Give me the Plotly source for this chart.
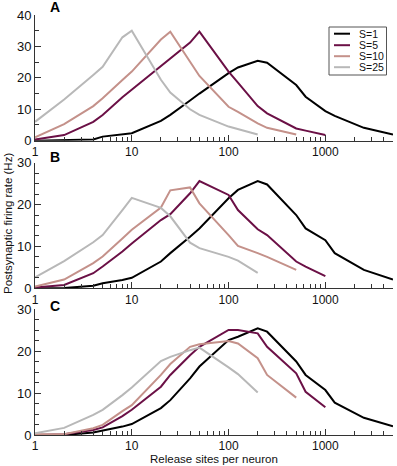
import plotly.graph_objects as go

# ---------------- data ----------------
release_sites = [1, 2, 4, 5, 8, 10, 20, 25, 40, 50, 100, 125, 200, 250, 500, 625, 1000, 1250, 2500, 5000]
series_names = ["S=1", "S=5", "S=10", "S=25"]
series_colors = ["#000000", "#6b1046", "#c4918a", "#b8b8b8"]

panel_a_s1 = [0, 0.1, 0.4, 1.3, 2.0, 2.4, 6.3, 8.2, 12.8, 15.0, 21.5, 23.3, 25.4, 24.8, 17.7, 14.0, 9.4, 7.9, 4.1, 2.0]
panel_a_s5 = [0.4, 1.8, 6.0, 8.2, 13.8, 16.2, 23.8, 25.9, 31.2, 34.7, 22.0, 18.5, 11.0, 8.7, 3.9, 3.2, 1.8]
panel_a_s10 = [1.1, 5.3, 11.0, 13.5, 19.3, 22.0, 32.2, 34.7, 25.1, 20.6, 10.8, 9.2, 5.5, 4.1, 2.0]
panel_a_s25 = [6.0, 13.1, 20.9, 23.5, 32.9, 35.0, 19.4, 15.3, 10.0, 8.2, 4.5, 3.7, 2.0]

panel_b_s1 = [0, 0.1, 0.6, 1.2, 2.0, 2.5, 6.4, 8.4, 12.3, 14.3, 21.5, 23.5, 25.6, 24.8, 17.5, 14.3, 11.5, 8.4, 4.4, 2.1]
panel_b_s5 = [0.2, 0.8, 3.6, 5.2, 8.8, 10.7, 16.3, 17.7, 22.7, 25.6, 22.3, 18.7, 14.1, 12.7, 6.4, 5.2, 2.9]
panel_b_s10 = [0.4, 2.1, 6.0, 7.6, 11.9, 14.0, 19.3, 23.4, 24.1, 20.3, 12.7, 10.1, 8.4, 7.5, 4.4]
panel_b_s25 = [2.6, 6.5, 11.0, 12.7, 18.7, 21.6, 19.2, 17.2, 10.9, 9.6, 7.5, 6.6, 3.7]

panel_c_s1 = [0, 0, 0.6, 1.0, 2.0, 2.6, 6.4, 8.3, 13.5, 16.3, 22.6, 23.4, 25.4, 24.6, 17.5, 14.3, 10.7, 7.7, 4.1, 2.1]
panel_c_s5 = [0, 0.2, 1.2, 1.8, 4.5, 6.0, 11.5, 14.3, 19.0, 21.0, 25.0, 25.0, 24.2, 21.0, 14.7, 10.3, 6.6]
panel_c_s10 = [0.2, 0.2, 1.6, 2.4, 5.7, 7.1, 14.3, 16.9, 21.0, 21.6, 22.4, 21.8, 18.3, 14.3, 8.9]
panel_c_s25 = [0.4, 1.7, 4.8, 6.0, 9.5, 11.3, 17.6, 18.6, 20.2, 20.8, 16.1, 14.5, 10.1]

panels = [
    ("A", [panel_a_s1, panel_a_s5, panel_a_s10, panel_a_s25], 40, 5),
    ("B", [panel_b_s1, panel_b_s5, panel_b_s10, panel_b_s25], 30, 2.5),
    ("C", [panel_c_s1, panel_c_s5, panel_c_s10, panel_c_s25], 30, 2.5),
]
x_ticks = [1, 10, 100, 1000]
x_tick_text = ["1", "10", "100", "1000"]

# ---------------- layout geometry ----------------
W, H = 397, 466
ML, MR, MT, MB = 35, 4, 15, 31
PW, PH = W - ML - MR, H - MT - MB


def px_x(px):
    return (px - ML) / PW


def px_y(py):
    return (H - MB - py) / PH


# panel pixel bounds (top, bottom)
panel_px = [(15, 140.7), (162.7, 288.3), (309, 435)]
letter_px_y = [7, 157, 306]

FONT = "Liberation Sans, Arial, Helvetica, sans-serif"
AX_COLOR = "#333333"

fig = go.Figure()
layout = dict(
    width=W, height=H, autosize=False,
    margin=dict(l=ML, r=MR, t=MT, b=MB, pad=0, autoexpand=False),
    paper_bgcolor="white", plot_bgcolor="white",
    showlegend=False,
    font=dict(family=FONT, color="#111111"),
)
annotations = []
shapes = []

for i, (letter, vals, ymax, ymin_dtick) in enumerate(panels):
    n = i + 1
    xa = "x" if n == 1 else f"x{n}"
    ya = "y" if n == 1 else f"y{n}"
    for name, color, v in zip(series_names, series_colors, vals):
        fig.add_trace(go.Scatter(
            x=release_sites[:len(v)], y=v, mode="lines", name=name,
            line=dict(color=color, width=2), xaxis=xa, yaxis=ya,
            showlegend=False, hoverinfo="skip", cliponaxis=False,
        ))
    top, bot = panel_px[i]
    layout["xaxis" if n == 1 else f"xaxis{n}"] = dict(
        type="log", range=[0, 3.69897], domain=[0, 1],
        anchor=ya, showgrid=False, zeroline=False, automargin=False,
        showline=True, linecolor=AX_COLOR, linewidth=1,
        tickmode="array", tickvals=x_ticks, ticktext=x_tick_text,
        ticks="inside", ticklen=6, tickcolor=AX_COLOR, tickwidth=1,
        tickfont=dict(size=12, family=FONT, color="#111111"),
        minor=dict(ticks="inside", ticklen=4, dtick="D1", tickcolor=AX_COLOR, showgrid=False),
        fixedrange=True,
    )
    layout["yaxis" if n == 1 else f"yaxis{n}"] = dict(
        range=[0, ymax], domain=[px_y(bot), px_y(top)],
        anchor=xa, showgrid=False, zeroline=False, automargin=False,
        showline=True, linecolor=AX_COLOR, linewidth=1,
        tickmode="linear", tick0=0, dtick=10,
        ticks="inside", ticklen=6, tickcolor=AX_COLOR, tickwidth=1,
        tickfont=dict(size=13, family=FONT, color="#111111"),
        minor=dict(ticks="inside", ticklen=4, dtick=ymin_dtick, tickcolor=AX_COLOR, showgrid=False),
        fixedrange=True,
    )
    annotations.append(dict(
        text=f"<b>{letter}</b>", xref="paper", yref="paper",
        x=px_x(55), y=px_y(letter_px_y[i]), xanchor="center", yanchor="middle",
        showarrow=False, font=dict(size=14, family=FONT, color="#000000"),
    ))

# axis titles
annotations.append(dict(
    text="Postsynaptic firing rate (Hz)", xref="paper", yref="paper",
    x=px_x(8), y=px_y(224), xanchor="center", yanchor="middle", textangle=-90,
    showarrow=False, font=dict(size=11.5, family=FONT, color="#111111"),
))
annotations.append(dict(
    text="Release sites per neuron", xref="paper", yref="paper",
    x=px_x(214), y=px_y(459), xanchor="center", yanchor="middle",
    showarrow=False, font=dict(size=11.5, family=FONT, color="#111111"),
))

# legend (in panel A)
shapes.append(dict(
    type="rect", xref="paper", yref="paper",
    x0=px_x(329), x1=px_x(386.5), y0=px_y(75), y1=px_y(27),
    line=dict(color="#555555", width=1), fillcolor="white", layer="above",
))
legend_rows = [33.7, 45.2, 56.2, 67.2]
for name, color, ry in zip(series_names, series_colors, legend_rows):
    shapes.append(dict(
        type="line", xref="paper", yref="paper",
        x0=px_x(334), x1=px_x(350), y0=px_y(ry), y1=px_y(ry),
        line=dict(color=color, width=2), layer="above",
    ))
    annotations.append(dict(
        text=name, xref="paper", yref="paper",
        x=px_x(357), y=px_y(ry), xanchor="left", yanchor="middle",
        showarrow=False, font=dict(size=10.5, family=FONT, color="#111111"),
    ))

layout["annotations"] = annotations
layout["shapes"] = shapes
fig.update_layout(**layout)
fig.write_html(
    "out.html",
    config={"displayModeBar": False},
    post_script="document.body.style.margin='0';document.body.style.padding='0';document.documentElement.style.overflow='hidden';",
)
